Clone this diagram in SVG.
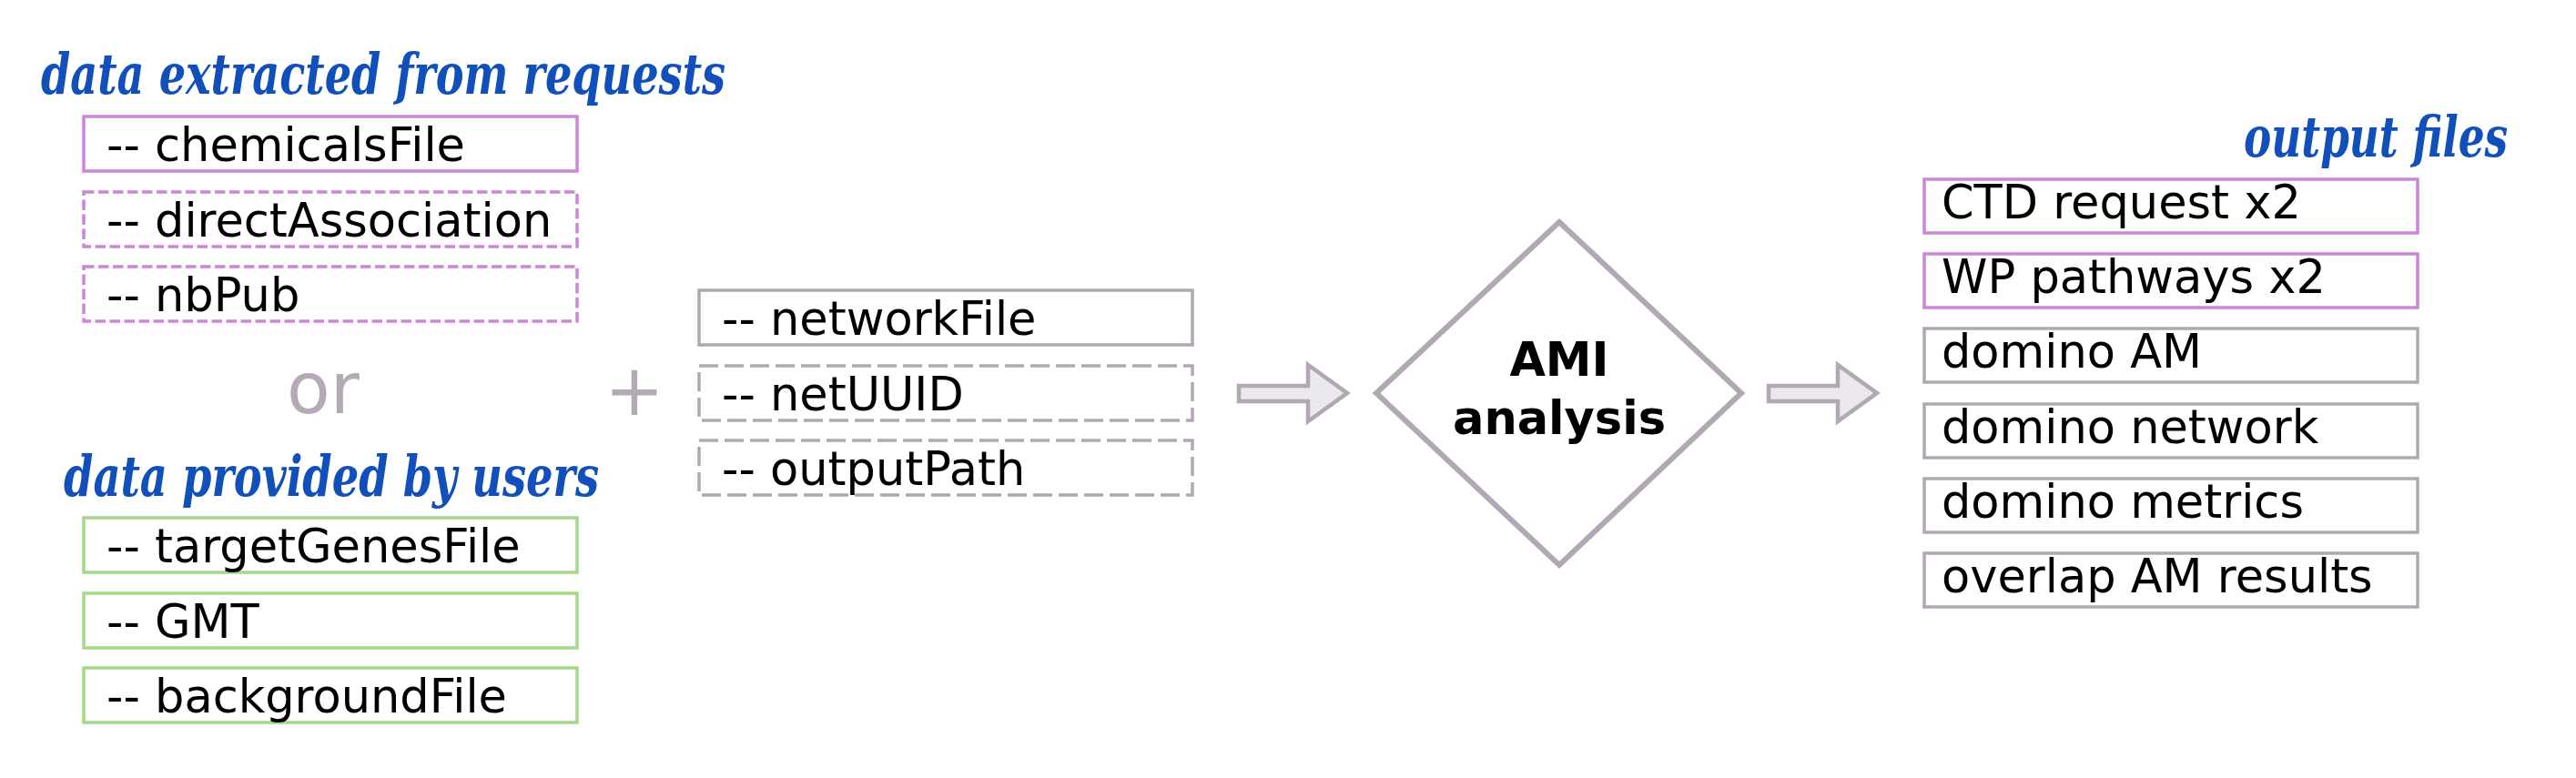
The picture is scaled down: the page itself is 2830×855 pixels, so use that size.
<svg xmlns="http://www.w3.org/2000/svg" xmlns:xlink="http://www.w3.org/1999/xlink" width="2830" height="855" viewBox="0 0 2830 855">
  <style>
    .lbl { font-family: "DejaVu Sans", "Liberation Sans", sans-serif; font-size: 51px; fill: #000000; }
    .head { font-family: "DejaVu Serif Condensed", "DejaVu Serif", "Liberation Serif", serif; font-stretch: condensed; font-style: italic; font-weight: bold; font-size: 62px; fill: #114fba; }
    .sep { font-family: "DejaVu Sans", "Liberation Sans", sans-serif; font-size: 78px; fill: #b3aab5; }
    .box { fill: #ffffff; stroke-width: 3.5; }
    .purple { stroke: #cb87d7; }
    .green { stroke: #a7d78a; }
    .gray { stroke: #b1a8b4; }
    .dashP { stroke-dasharray: 11.5 4.5; }
    .dashG { stroke-dasharray: 21 7; }
    .arrow { fill: #ece9ee; stroke: #b1a8b4; stroke-width: 4.5; stroke-linejoin: miter; }
    .diamond { fill: #ffffff; stroke: #b1a8b4; stroke-width: 6; }
    .bold { font-weight: bold; }
  </style>
  <defs>
    <path id="blockArrow" d="M0,-8 L76,-8 L76,-31 L119,0 L76,31 L76,9 L0,9 Z"/>
  </defs>
  <rect width="2830" height="855" fill="#ffffff"/>

  <!-- headings -->
  <g id="heading-requests">
    <text class="head" x="45" y="103" textLength="752" lengthAdjust="spacingAndGlyphs">data extracted from requests</text>
  </g>
  <g id="heading-users">
    <text class="head" x="70" y="545" textLength="588" lengthAdjust="spacingAndGlyphs">data provided by users</text>
  </g>
  <g id="heading-output">
    <text class="head" x="2465" y="172" textLength="290" lengthAdjust="spacingAndGlyphs">output files</text>
  </g>

  <!-- request inputs -->
  <g id="chemicalsFile">
    <rect class="box purple" x="92" y="128" width="542" height="60"/>
    <text class="lbl" x="117" y="177">-- chemicalsFile</text>
  </g>
  <g id="directAssociation">
    <rect class="box purple dashP" x="92" y="211" width="542" height="60"/>
    <text class="lbl" x="117" y="260">-- directAssociation</text>
  </g>
  <g id="nbPub">
    <rect class="box purple dashP" x="92" y="293" width="542" height="60"/>
    <text class="lbl" x="117" y="342">-- nbPub</text>
  </g>

  <g id="or">
    <text class="sep" x="315" y="454">or</text>
  </g>
  <g id="plus">
    <text class="sep" x="697" y="456" text-anchor="middle">+</text>
  </g>

  <!-- user inputs -->
  <g id="targetGenesFile">
    <rect class="box green" x="92" y="569" width="542" height="60"/>
    <text class="lbl" x="117" y="618">-- targetGenesFile</text>
  </g>
  <g id="GMT">
    <rect class="box green" x="92" y="652" width="542" height="60"/>
    <text class="lbl" x="117" y="701">-- GMT</text>
  </g>
  <g id="backgroundFile">
    <rect class="box green" x="92" y="734" width="542" height="60"/>
    <text class="lbl" x="117" y="783">-- backgroundFile</text>
  </g>

  <!-- network inputs -->
  <g id="networkFile">
    <rect class="box gray" x="768" y="319" width="542" height="60"/>
    <text class="lbl" x="793" y="368">-- networkFile</text>
  </g>
  <g id="netUUID">
    <rect class="box gray dashG" x="768" y="402" width="542" height="60"/>
    <text class="lbl" x="793" y="451">-- netUUID</text>
  </g>
  <g id="outputPath">
    <rect class="box gray dashG" x="768" y="484" width="542" height="60"/>
    <text class="lbl" x="793" y="533">-- outputPath</text>
  </g>

  <!-- analysis -->
  <g id="ami-analysis">
    <polygon class="diamond" points="1713,244 1913,432 1713,621 1512,432"/>
    <text class="lbl bold" x="1713" y="413" text-anchor="middle">AMI</text>
    <text class="lbl bold" x="1713" y="477" text-anchor="middle">analysis</text>
  </g>

  <!-- outputs -->
  <g id="ctd-request">
    <rect class="box purple" x="2114" y="197" width="542" height="59"/>
    <text class="lbl" x="2133" y="240">CTD request x2</text>
  </g>
  <g id="wp-pathways">
    <rect class="box purple" x="2114" y="279" width="542" height="59"/>
    <text class="lbl" x="2133" y="322">WP pathways x2</text>
  </g>
  <g id="domino-am">
    <rect class="box gray" x="2114" y="361" width="542" height="59"/>
    <text class="lbl" x="2133" y="404">domino AM</text>
  </g>
  <g id="domino-network">
    <rect class="box gray" x="2114" y="444" width="542" height="59"/>
    <text class="lbl" x="2133" y="487">domino network</text>
  </g>
  <g id="domino-metrics">
    <rect class="box gray" x="2114" y="526" width="542" height="59"/>
    <text class="lbl" x="2133" y="569">domino metrics</text>
  </g>
  <g id="overlap-am-results">
    <rect class="box gray" x="2114" y="608" width="542" height="59"/>
    <text class="lbl" x="2133" y="651">overlap AM results</text>
  </g>

  <!-- connectors -->
  <g id="connectors">
    <use xlink:href="#blockArrow" href="#blockArrow" class="arrow" transform="translate(1361,432)"/>
    <use xlink:href="#blockArrow" href="#blockArrow" class="arrow" transform="translate(1943,432)"/>
  </g>
</svg>
